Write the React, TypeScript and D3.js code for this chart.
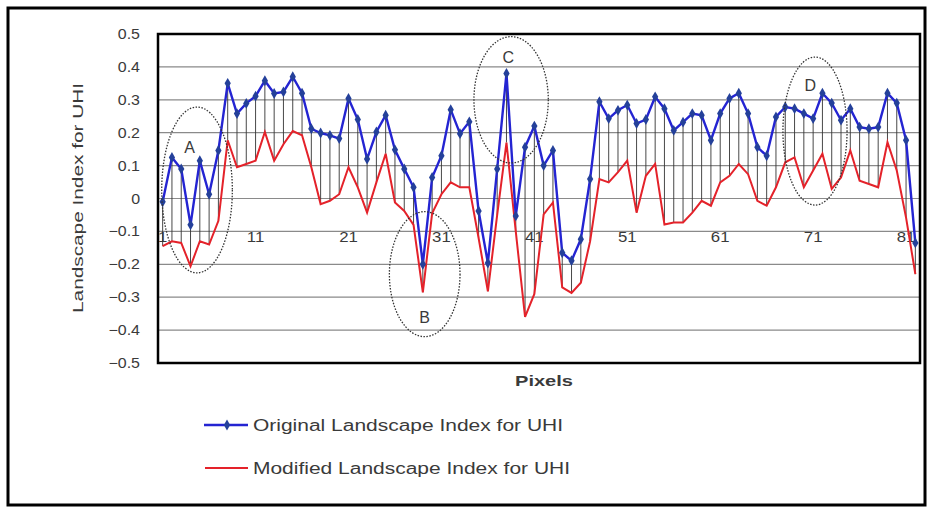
import React from "react";
import * as d3 from "d3";

// values (82 pixels)
const originalIndex = [
  -0.01, 0.125, 0.09, -0.08, 0.115, 0.013, 0.146, 0.35, 0.258, 0.289,
  0.311, 0.358, 0.319, 0.324, 0.37, 0.32, 0.212, 0.199, 0.192, 0.182,
  0.304, 0.24, 0.12, 0.202, 0.253, 0.148, 0.09, 0.034, -0.2, 0.064,
  0.13, 0.27, 0.197, 0.233, -0.038, -0.196, 0.09, 0.38, -0.053, 0.156,
  0.22, 0.1, 0.146, -0.165, -0.189, -0.124, 0.059, 0.294, 0.243, 0.268,
  0.284, 0.228, 0.24, 0.309, 0.273, 0.207, 0.232, 0.258, 0.253, 0.177,
  0.258, 0.304, 0.32, 0.258, 0.156, 0.13, 0.248, 0.278, 0.273, 0.258,
  0.243, 0.32, 0.29, 0.238, 0.273, 0.217, 0.212, 0.217, 0.32, 0.29,
  0.177, -0.135,
];

const modifiedIndex = [
  -0.145, -0.13, -0.135, -0.206, -0.13, -0.14, -0.068, 0.177, 0.095, 0.105,
  0.115, 0.202, 0.115, 0.165, 0.205, 0.192, 0.095, -0.017, -0.007, 0.013,
  0.095, 0.034, -0.043, 0.049, 0.136, -0.012, -0.038, -0.08, -0.285, -0.045,
  0.013, 0.049, 0.034, 0.034, -0.12, -0.282, -0.05, 0.17, -0.1, -0.36,
  -0.29, -0.048, -0.012, -0.27, -0.287, -0.256, -0.13, 0.059, 0.049, 0.08,
  0.115, -0.043, 0.069, 0.105, -0.079, -0.073, -0.073, -0.043, -0.007, -0.022,
  0.049, 0.069, 0.105, 0.074, -0.007, -0.022, 0.034, 0.11, 0.125, 0.034,
  0.085, 0.136, 0.029, 0.064, 0.146, 0.054, 0.044, 0.034, 0.171, 0.085,
  -0.058, -0.23,
];

const pixelIndex = d3.range(1, originalIndex.length + 1);
const yTicks = [0.5, 0.4, 0.3, 0.2, 0.1, 0, -0.1, -0.2, -0.3, -0.4, -0.5];
const xTickLabels = [1, 11, 21, 31, 41, 51, 61, 71, 81];
const seriesNames = [
  "Original Landscape  Index for UHI",
  "Modified Landscape  Index for UHI",
];
// dotted circles: centre (pixel, value), half sizes (pixels, value)
const circleLabels = ["A", "B", "C", "D"];
const circleCentres = [[4.7, 0.026], [29.2, -0.23], [38.5, 0.3], [71.2, 0.205]];
const circleRadii = [[3.8, 0.252], [3.8, 0.19], [4.0, 0.192], [3.45, 0.225]];
const circleLabelAt = [[3.9, 0.156], [29.2, -0.36], [38.2, 0.43], [70.7, 0.345]];

const W = 931;
const H = 510;
const plot = { left: 158, right: 920, top: 34, bottom: 363 };

const BLUE = "#2424d2";
const MARKER = "#24409a";
const RED = "#e4222a";
const TXT = "#3a3a3a";

export default function App() {
  const x = d3
    .scaleLinear()
    .domain([0.5, pixelIndex.length + 0.5])
    .range([plot.left, plot.right]);
  const y = d3.scaleLinear().domain([-0.5, 0.5]).range([plot.bottom, plot.top]);

  const line = d3
    .line<number>()
    .x((_, i) => x(pixelIndex[i]))
    .y((d) => y(d));

  const diamond = d3.symbol().type(d3.symbolDiamond).size(34)();

  return (
    <svg
      width={W}
      height={H}
      style={{ position: "absolute", left: 0, top: 0, background: "#fff" }}
      fontFamily="'Liberation Sans', Arial, sans-serif"
    >
      <rect x={8} y={8} width={917} height={497} fill="#fff" stroke="#000" strokeWidth={3} />

      {/* grid */}
      {yTicks.map((t) => (
        <line
          key={t}
          x1={plot.left}
          x2={plot.right}
          y1={y(t)}
          y2={y(t)}
          stroke="#8a8a8a"
          strokeWidth={1.2}
        />
      ))}

      {/* y tick labels */}
      {yTicks.map((t) => (
        <text
          key={"l" + t}
          transform={`translate(140,${y(t) + 5}) scale(1.14,1)`}
          textAnchor="end"
          fontSize={14}
          fill={TXT}
        >
          {t === 0 ? "0" : d3.format(".1f")(t)}
        </text>
      ))}

      {/* x tick labels, axis crosses at 0 */}
      {xTickLabels.map((t) => (
        <text
          key={"x" + t}
          transform={`translate(${x(t)},${y(0) + 43}) scale(1.2,1)`}
          textAnchor="middle"
          fontSize={14}
          fill={TXT}
        >
          {t}
        </text>
      ))}

      {/* high-low lines */}
      {pixelIndex.map((p, i) => (
        <line
          key={"d" + p}
          x1={x(p)}
          x2={x(p)}
          y1={y(originalIndex[i])}
          y2={y(modifiedIndex[i])}
          stroke="#333"
          strokeWidth={0.9}
        />
      ))}

      <path d={line(modifiedIndex) || ""} fill="none" stroke={RED} strokeWidth={2} />
      <path d={line(originalIndex) || ""} fill="none" stroke={BLUE} strokeWidth={2.4} />
      {originalIndex.map((v, i) => (
        <path
          key={"m" + i}
          d={diamond || ""}
          transform={`translate(${x(pixelIndex[i])},${y(v)})`}
          fill={MARKER}
        />
      ))}

      {/* dotted circles */}
      {circleLabels.map((lab, i) => (
        <g key={lab}>
          <ellipse
            cx={x(circleCentres[i][0])}
            cy={y(circleCentres[i][1])}
            rx={x(circleRadii[i][0]) - x(0)}
            ry={y(0) - y(circleRadii[i][1])}
            fill="none"
            stroke="#333"
            strokeWidth={1.3}
            strokeDasharray="1.5,1.5"
          />
          <text
            x={x(circleLabelAt[i][0])}
            y={y(circleLabelAt[i][1]) + 6}
            textAnchor="middle"
            fontSize={16}
            fill={TXT}
          >
            {lab}
          </text>
        </g>
      ))}

      {/* plot frame */}
      <rect
        x={plot.left}
        y={plot.top}
        width={plot.right - plot.left}
        height={plot.bottom - plot.top}
        fill="none"
        stroke="#000"
        strokeWidth={2.5}
      />

      {/* axis titles */}
      <text
        transform="translate(83,198) rotate(-90)"
        textAnchor="middle"
        fontSize={14}
        fill={TXT}
        textLength={230}
        lengthAdjust="spacingAndGlyphs"
      >
        Landscape  Index for UHI
      </text>
      <text
        x={515}
        y={386}
        fontSize={15}
        fontWeight="bold"
        fill={TXT}
        textLength={58}
        lengthAdjust="spacingAndGlyphs"
      >
        Pixels
      </text>

      {/* legend */}
      <line x1={204} x2={248} y1={425} y2={425} stroke={BLUE} strokeWidth={2.4} />
      <path d={diamond || ""} transform="translate(227,425)" fill={MARKER} />
      <text
        x={253}
        y={431}
        fontSize={16}
        fill={TXT}
        textLength={310}
        lengthAdjust="spacingAndGlyphs"
      >
        {seriesNames[0]}
      </text>
      <line x1={205} x2={248} y1={468} y2={468} stroke={RED} strokeWidth={2} />
      <text
        x={253}
        y={474}
        fontSize={16}
        fill={TXT}
        textLength={317}
        lengthAdjust="spacingAndGlyphs"
      >
        {seriesNames[1]}
      </text>
    </svg>
  );
}
